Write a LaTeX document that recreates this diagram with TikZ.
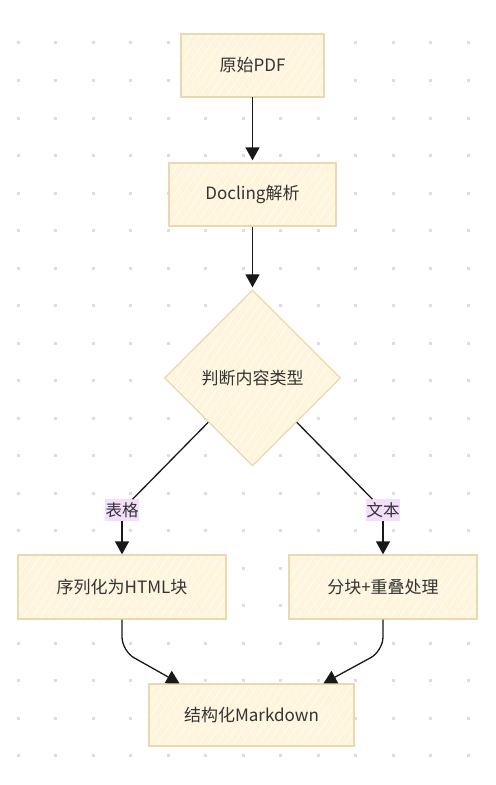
\documentclass[tikz,border=0pt]{standalone}
\usepackage{fontspec}
\setmainfont{Noto Sans CJK SC}
\usepackage{xcolor}
\usetikzlibrary{shapes,arrows.meta,patterns.meta}
\definecolor{boxfill}{HTML}{FFF4DC}
\definecolor{boxline}{HTML}{E9D8B0}
\definecolor{lblfill}{HTML}{F3DEFC}
\definecolor{dotgray}{HTML}{DDDDDD}
\definecolor{txt}{HTML}{333333}
\tikzset{procbox/.style={draw=boxline, line width=1.3bp, preaction={fill=boxfill},
    pattern={Lines[angle=55,distance=7bp,line width=0.6bp]}, pattern color=white,
    text=txt, minimum height=63bp, inner sep=0pt,
    font=\fontsize{17bp}{20bp}\selectfont}}
\tikzset{choice/.style={procbox, shape=diamond, minimum width=176bp, minimum height=176bp}}
\tikzset{edgelbl/.style={fill=lblfill, text=txt, inner xsep=0.5bp, inner ysep=3bp,
    font=\fontsize{16.5bp}{20bp}\selectfont}}
\tikzset{flow/.style={-{Triangle[width=14bp,length=13bp]}, line width=1.3bp, color=black!90}}

\begin{document}
\begin{tikzpicture}[x=1bp, y=-1bp]
                \useasboundingbox (0,0) rectangle (496,785);

                % dot grid
                \foreach \i in {0,...,12}
                    \foreach \j in {0,...,19}
                        \fill[dotgray] ({18+37.5*\i-1.5},{43+37.5*\j-1.5}) rectangle ++(3,3);

                \node [procbox, minimum width=143bp] (src) at (252.5,65.5) {原始PDF};
                \node [procbox, minimum width=167bp] (dl) at (252.5,194.5) {Docling解析};
                \node [choice] (dec) at (252.5,378) {判断内容类型};

                \node [edgelbl] (lblT) at (122,510) {表格};
                \node [edgelbl] (lblW) at (383,510) {文本};

                \node [procbox, minimum width=208bp, minimum height=64bp] (ser) at (122,587) {序列化为HTML块};
                \node [procbox, minimum width=188bp, minimum height=64bp] (chk) at (383,587) {分块+重叠处理};
                \node [procbox, minimum width=205bp, minimum height=62bp] (md) at (251.5,715) {结构化Markdown};

                \coordinate (bendT) at (122,651);
                \coordinate (bendW) at (383,651);

                \path[flow, shorten >=2bp] (src) edge (dl)
                    (dl) edge (dec);
                \draw[line width=1.3bp, color=black!90] (dec.south west) -- (lblT);
                \draw[line width=1.3bp, color=black!90] (dec.south east) -- (lblW);
                \path[flow] (lblT) edge (ser)
                    (lblW) edge (chk);
                \draw[flow, rounded corners=14bp] (ser.south) -- (bendT) -- ([xshift=-72bp]md.north);
                \draw[flow, rounded corners=14bp] (chk.south) -- (bendW) -- ([xshift=72bp]md.north);

            \end{tikzpicture}
\end{document}
